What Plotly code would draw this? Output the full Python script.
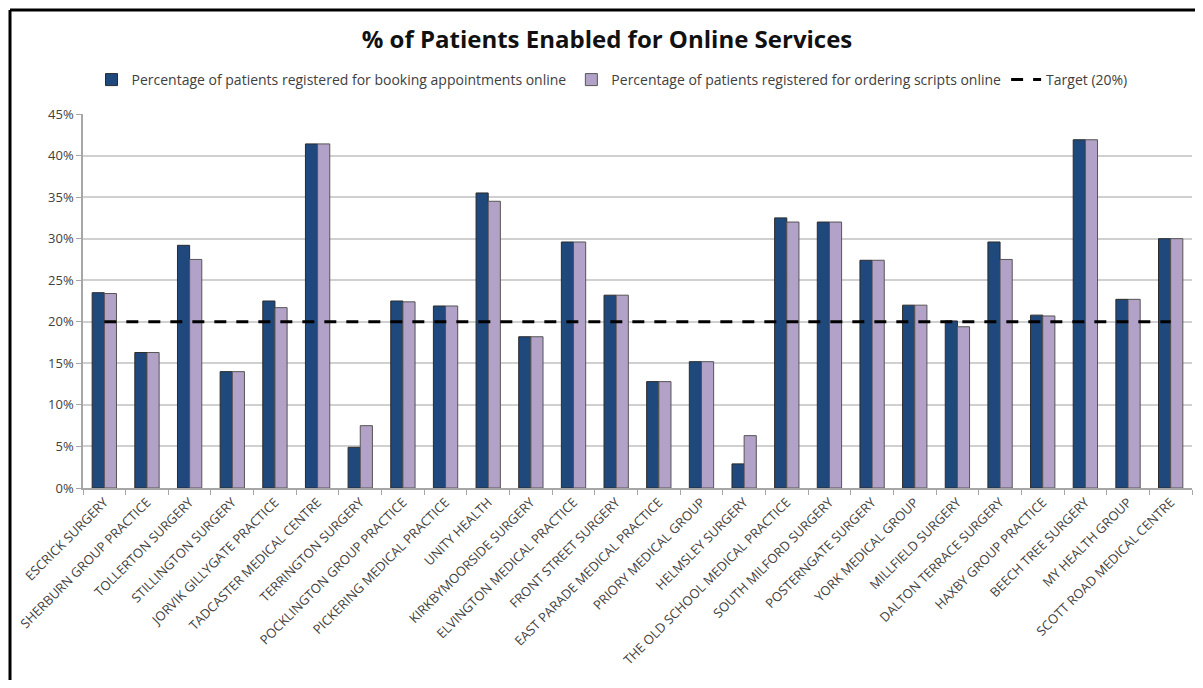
import plotly.graph_objects as go

practices = [
    "ESCRICK SURGERY", "SHERBURN GROUP PRACTICE", "TOLLERTON SURGERY", "STILLINGTON SURGERY",
    "JORVIK GILLYGATE PRACTICE", "TADCASTER MEDICAL CENTRE", "TERRINGTON SURGERY",
    "POCKLINGTON GROUP PRACTICE", "PICKERING MEDICAL PRACTICE", "UNITY HEALTH",
    "KIRKBYMOORSIDE SURGERY", "ELVINGTON MEDICAL PRACTICE", "FRONT STREET SURGERY",
    "EAST PARADE MEDICAL PRACTICE", "PRIORY MEDICAL GROUP", "HELMSLEY SURGERY",
    "THE OLD SCHOOL MEDICAL PRACTICE", "SOUTH MILFORD SURGERY", "POSTERNGATE SURGERY",
    "YORK MEDICAL GROUP", "MILLFIELD SURGERY", "DALTON TERRACE SURGERY",
    "HAXBY GROUP PRACTICE", "BEECH TREE SURGERY", "MY HEALTH GROUP", "SCOTT ROAD MEDICAL CENTRE",
]

booking = [0.235, 0.163, 0.292, 0.140, 0.225, 0.414, 0.049, 0.225, 0.219, 0.355,
           0.182, 0.296, 0.232, 0.128, 0.152, 0.029, 0.325, 0.320, 0.274, 0.220,
           0.201, 0.296, 0.208, 0.419, 0.227, 0.300]

scripts = [0.234, 0.163, 0.275, 0.140, 0.217, 0.414, 0.075, 0.224, 0.219, 0.345,
           0.182, 0.296, 0.232, 0.128, 0.152, 0.063, 0.320, 0.320, 0.274, 0.220,
           0.194, 0.275, 0.207, 0.419, 0.227, 0.300]

target = [0.20] * len(practices)

name_booking = "Percentage of patients registered for booking appointments online"
name_scripts = "Percentage of patients registered for ordering scripts online"
name_target = "Target (20%)"

FONT = "Open Sans"
TXT = "#404040"

fig = go.Figure()
fig.add_trace(go.Bar(
    x=practices, y=booking, name=name_booking,
    marker=dict(color="#1F497D", line=dict(color="#2b2b2b", width=1)),
))
fig.add_trace(go.Bar(
    x=practices, y=scripts, name=name_scripts,
    marker=dict(color="#B3A2C7", line=dict(color="#555555", width=1)),
))
fig.add_trace(go.Scatter(
    x=practices, y=target, name=name_target, mode="lines",
    line=dict(color="black", width=3, dash="12px,10px"),
))

# page is rendered with an 8px body margin; work in screen pixel coords
OFF = 8
W, H = 1203 - 2 * OFF, 688 - 2 * OFF
ml = 83 - OFF
mt = 114 - OFF
plot_right = 1192 - OFF
plot_bottom = 488 - OFF
mr = W - plot_right
mb = H - plot_bottom
pw, ph = W - ml - mr, H - mt - mb

def px_to_paper_x(px):
    return (px - OFF - ml) / pw

def py_to_paper_y(py):
    return (plot_bottom - (py - OFF)) / ph

bx = px_to_paper_x(10)
by = py_to_paper_y(10)

fig.update_layout(
    width=W, height=H,
    margin=dict(l=ml, r=mr, t=mt, b=mb, autoexpand=False),
    paper_bgcolor="white", plot_bgcolor="white",
    font=dict(family=FONT, color=TXT, size=13),
    title=dict(
        text="<b>% of Patients Enabled for Online Services</b>",
        x=(607 - OFF) / W, xref="container", xanchor="center",
        y=1 - (40 - OFF) / H, yref="container", yanchor="middle",
        font=dict(family=FONT, size=24, color="#111111"),
    ),
    barmode="group", bargap=0.43, bargroupgap=0.0,
    legend=dict(
        orientation="h", x=px_to_paper_x(612), xanchor="center",
        y=py_to_paper_y(80), yanchor="middle",
        font=dict(family=FONT, size=14, color=TXT),
        bgcolor="rgba(0,0,0,0)", tracegroupgap=0,
        traceorder="normal",
    ),
    xaxis=dict(
        type="category", tickangle=-45, showgrid=False,
        showline=True, linecolor="#A6A6A6", linewidth=1.5,
        ticks="outside", ticklen=5, tickcolor="#A6A6A6", tickson="boundaries",
        tickfont=dict(family=FONT, size=13, color=TXT),
        automargin=False,
    ),
    yaxis=dict(
        range=[0, 0.45], dtick=0.05, tickformat=".0%",
        showgrid=True, gridcolor="#D0D0D0", gridwidth=1.5,
        showline=True, linecolor="#A6A6A6", linewidth=1.5,
        ticks="outside", ticklen=5, tickcolor="#A6A6A6",
        tickfont=dict(family=FONT, size=13, color=TXT),
        zeroline=False, automargin=False,
    ),
    shapes=[
        dict(type="line", xref="paper", yref="paper",
             x0=bx, x1=bx, y0=by, y1=py_to_paper_y(720),
             line=dict(color="black", width=3)),
        dict(type="line", xref="paper", yref="paper",
             x0=bx, x1=px_to_paper_x(1230), y0=by, y1=by,
             line=dict(color="black", width=3)),
    ],
)

fig.write_html("out.html")
